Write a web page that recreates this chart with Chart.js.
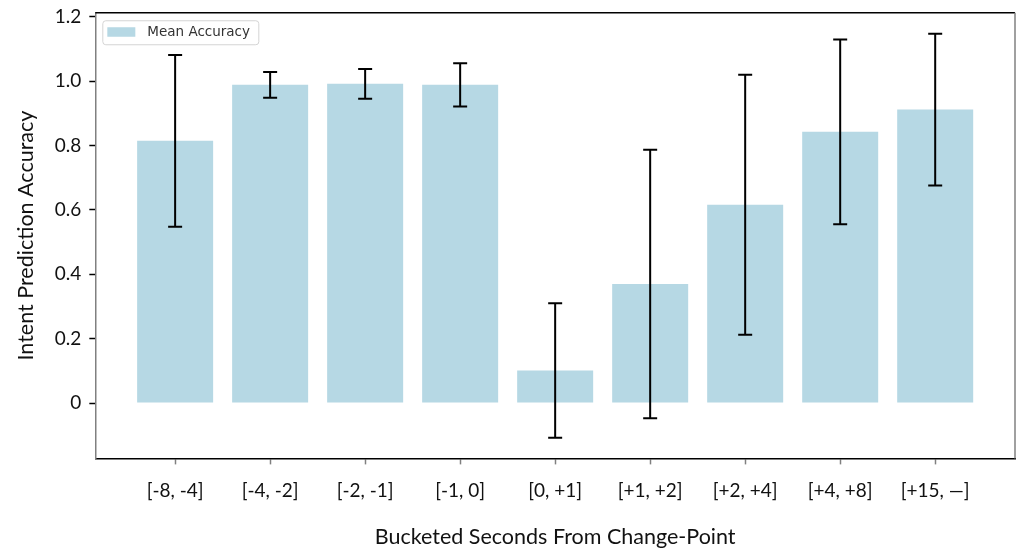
<!DOCTYPE html>
<html>
<head>
<meta charset="utf-8">
<script src="https://cdn.jsdelivr.net/npm/chart.js@4"></script>
<style>
  html, body { margin: 0; padding: 0; background: #fff; }
  #wrap { width: 1036px; height: 560px; }
</style>
</head>
<body>
<div id="wrap"><canvas id="accuracy-chart"></canvas></div>
<script>
const buckets = ["[-8, -4]", "[-4, -2]", "[-2, -1]", "[-1, 0]", "[0, +1]", "[+1, +2]", "[+2, +4]", "[+4, +8]", "[+15, \u2014]"];
const meanAccuracy = [0.815, 0.989, 0.992, 0.989, 0.101, 0.370, 0.616, 0.843, 0.912];
const stdError = [0.267, 0.040, 0.046, 0.067, 0.209, 0.417, 0.404, 0.287, 0.236];
const yTickValues = [0, 0.2, 0.4, 0.6, 0.8, 1.0, 1.2];

const barColor = "rgb(182, 216, 228)";
const tickFont = { family: "Lato", size: 19 };
const titleFont = { family: "Lato", size: 21.5 };

// error bars drawn through the scales
const errorBars = {
  id: "errorBars",
  afterDatasetsDraw(chart) {
    const { ctx, scales } = chart;
    ctx.save();
    ctx.strokeStyle = "#000";
    ctx.lineWidth = 2;
    meanAccuracy.forEach((m, i) => {
      const x = scales.x.getPixelForValue(i);
      const yTop = scales.y.getPixelForValue(m + stdError[i]);
      const yBot = scales.y.getPixelForValue(m - stdError[i]);
      ctx.beginPath();
      ctx.moveTo(x, yTop);
      ctx.lineTo(x, yBot);
      ctx.moveTo(x - 7, yTop);
      ctx.lineTo(x + 7, yTop);
      ctx.moveTo(x - 7, yBot);
      ctx.lineTo(x + 7, yBot);
      ctx.stroke();
    });
    ctx.restore();
  },
};

// top and right spines plus a matplotlib-style legend box
const frame = {
  id: "frame",
  afterDraw(chart) {
    const { ctx, chartArea: a } = chart;
    ctx.save();
    ctx.lineWidth = 1.5;
    ctx.strokeStyle = "#000";
    ctx.beginPath();
    ctx.moveTo(a.left, a.top);
    ctx.lineTo(a.right, a.top);
    ctx.stroke();
    ctx.strokeStyle = "#808080";
    ctx.beginPath();
    ctx.moveTo(a.right, a.top);
    ctx.lineTo(a.right, a.bottom);
    ctx.stroke();

    const lx = a.left + 7, ly = a.top + 7.5;
    ctx.fillStyle = "rgba(255,255,255,0.8)";
    ctx.strokeStyle = "#d4d4d4";
    ctx.lineWidth = 1;
    ctx.beginPath();
    ctx.roundRect(lx + 0.5, ly + 0.5, 156, 24, 3);
    ctx.fill();
    ctx.stroke();
    ctx.fillStyle = barColor;
    ctx.fillRect(lx + 5, ly + 7, 28, 9.5);
    ctx.fillStyle = "#333";
    ctx.font = "13.5px 'DejaVu Sans'";
    ctx.textBaseline = "middle";
    ctx.fillText(chart.data.datasets[0].label, lx + 45, ly + 12.5);
    ctx.restore();
  },
};

new Chart(document.getElementById("accuracy-chart"), {
  type: "bar",
  data: {
    datasets: [
      {
        label: "Mean Accuracy",
        data: meanAccuracy.map((v, i) => ({ x: i, y: v })),
        backgroundColor: barColor,
        categoryPercentage: 1,
        barPercentage: 0.8,
      },
    ],
  },
  options: {
    responsive: true,
    maintainAspectRatio: false,
    animation: false,
    layout: { padding: { left: 13, right: 21, top: 0, bottom: 10 } },
    plugins: {
      tooltip: { enabled: false },
      legend: { display: false },
    },
    scales: {
      x: {
        type: "linear",
        offset: false,
        min: -0.84,
        max: 8.84,
        afterBuildTicks: (scale) => {
          scale.ticks = buckets.map((_, i) => ({ value: i }));
        },
        ticks: {
          callback: (v) => buckets[v],
          font: tickFont,
          color: "#111",
          padding: 15,
          maxRotation: 0,
          autoSkip: false,
        },
        grid: {
          offset: false,
          drawOnChartArea: false,
          drawTicks: true,
          tickLength: 6,
          tickColor: "#808080",
          tickWidth: 1.5,
        },
        border: { color: "#000", width: 1.5 },
        title: {
          display: true,
          text: "Bucketed Seconds From Change-Point",
          font: titleFont,
          color: "#111",
          padding: { top: 7, bottom: 0 },
        },
      },
      y: {
        min: -0.172,
        max: 1.213,
        afterBuildTicks: (scale) => {
          scale.ticks = yTickValues.map((v) => ({ value: v }));
        },
        ticks: {
          callback: (v) => (v === 0 ? "0" : v.toFixed(1)),
          font: { ...tickFont, lineHeight: 0.5 },
          color: "#111",
          padding: 8,
        },
        grid: {
          drawOnChartArea: false,
          drawTicks: true,
          tickLength: 6,
          tickColor: "#000",
          tickWidth: 1.5,
        },
        border: { color: "#808080", width: 1.5 },
        title: {
          display: true,
          text: "Intent Prediction Accuracy",
          font: titleFont,
          color: "#111",
          padding: { top: 0, bottom: 8 },
        },
      },
    },
  },
  plugins: [errorBars, frame],
});
</script>
</body>
</html>
